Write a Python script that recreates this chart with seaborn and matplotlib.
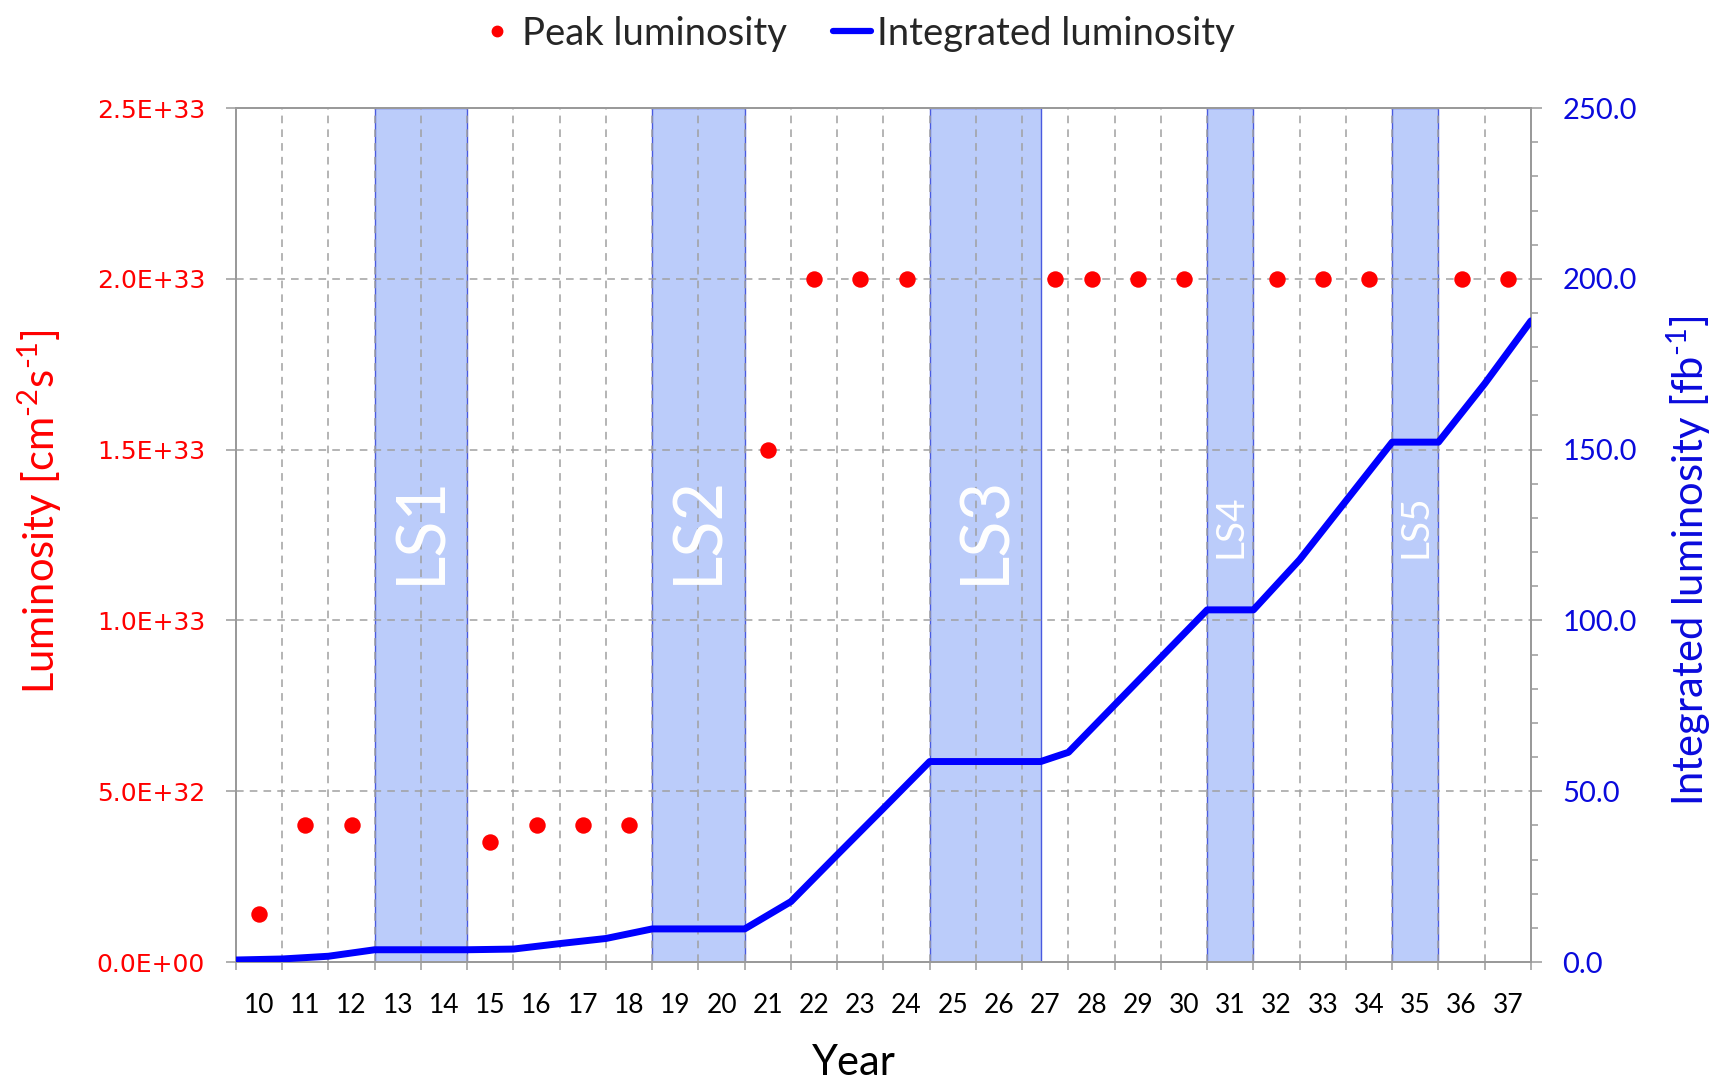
import matplotlib
matplotlib.use("Agg")
import matplotlib.pyplot as plt
import matplotlib.ticker as mticker
from matplotlib.lines import Line2D
import numpy as np
import pandas as pd
import seaborn as sns

# Integrated luminosity [fb^-1] at each time point (start of year, plus end of LS3)
integ_time = [10, 11, 12, 13, 14, 15, 16, 17, 18, 19, 20, 21, 22, 23, 24,
              25, 26, 27, 27.4, 28, 29, 30, 31, 32, 33, 34, 35, 36, 37, 38]
integ_lumi = [0.6, 0.9, 1.7, 3.6, 3.6, 3.6, 3.8, 5.4, 6.9, 9.7, 9.7, 9.7, 17.7, 31.4, 45.0,
              58.7, 58.7, 58.7, 58.7, 61.4, 75.3, 89.2, 103.1, 103.1, 117.8, 135.0, 152.2, 152.2, 169.3, 187.7]

# Peak luminosity [cm^-2 s^-1], plotted in the middle of each running period
peak_time = [10.5, 11.5, 12.5, 15.5, 16.5, 17.5, 18.5, 21.5, 22.5, 23.5, 24.5,
             27.7, 28.5, 29.5, 30.5, 32.5, 33.5, 34.5, 36.5, 37.5]
peak_lumi = [1.4e32, 4.0e32, 4.0e32, 3.5e32, 4.0e32, 4.0e32, 4.0e32, 1.5e33, 2.0e33, 2.0e33, 2.0e33,
             2.0e33, 2.0e33, 2.0e33, 2.0e33, 2.0e33, 2.0e33, 2.0e33, 2.0e33, 2.0e33]

year_labels = list(range(10, 38))

# Long shutdowns
shutdown_names = ["LS1", "LS2", "LS3", "LS4", "LS5"]
shutdown_start = [13, 19, 25, 31, 35]
shutdown_end = [15, 21, 27.4, 32, 36]

RED = "#FF0000"
BLUE = "#0000FF"
BLUE_TXT = "#0A0ADC"
GREY = "#9A9A9A"

sns.set_theme(style="white")
plt.rcParams["font.family"] = ["Lato", "DejaVu Sans"]
plt.rcParams["mathtext.fontset"] = "custom"
plt.rcParams["mathtext.rm"] = "Lato"
plt.rcParams["mathtext.it"] = "Lato:italic"
plt.rcParams["mathtext.bf"] = "Lato:bold"
plt.rcParams["mathtext.default"] = "regular"

fig = plt.figure(figsize=(17.16, 10.84), dpi=100)
ax = fig.add_axes([0.1375, 0.1125, 0.75466, 0.78782])
ax2 = ax.twinx()

# shaded shutdown periods
for name, s, e in zip(shutdown_names, shutdown_start, shutdown_end):
    ax.axvspan(s, e, facecolor="#BBCCFA", edgecolor="#4A5AE0", linewidth=1.0, zorder=0.3)
    big = (e - s) > 1.5
    ax.text((s + e) / 2, 0.507 if big else 0.51, name, transform=ax.get_xaxis_transform(),
            rotation=90, ha="center", va="center", color="white",
            fontsize=48 if big else 28, zorder=3)

peak_df = pd.DataFrame({"time": peak_time, "lumi": peak_lumi})
integ_df = pd.DataFrame({"time": integ_time, "lumi": integ_lumi})

sns.scatterplot(data=peak_df, x="time", y="lumi", ax=ax, color=RED, s=140,
                linewidth=0, zorder=4, legend=False)
sns.lineplot(data=integ_df, x="time", y="lumi", ax=ax2, color=BLUE, linewidth=5,
             legend=False, zorder=4)

# x axis: year boundaries as major ticks, labels centred in each year
ax.set_xlim(10, 38)
ax.xaxis.set_major_locator(mticker.MultipleLocator(1))
ax.xaxis.set_major_formatter(mticker.NullFormatter())
ax.set_xticks([y + 0.5 for y in year_labels], minor=True)
ax.set_xticklabels([str(y) for y in year_labels], minor=True)
ax.tick_params(axis="x", which="major", bottom=True, direction="out", length=6,
               width=1.1, color=GREY)
ax.tick_params(axis="x", which="minor", bottom=True, length=0, pad=22,
               labelsize=19, labelcolor="black")

# left axis: peak luminosity
ax.set_ylim(0, 2.5e33)
ax.set_yticks(np.linspace(0, 2.5e33, 6))
ax.yaxis.set_major_formatter(mticker.FuncFormatter(lambda v, p: f"{v:.1E}"))
ax.tick_params(axis="y", which="major", left=True, direction="out", length=7.2,
               width=1.1, color=GREY, pad=15, labelsize=18, labelcolor=RED,
               labelfontfamily="DejaVu Sans")

# right axis: integrated luminosity
ax2.set_ylim(0, 250)
ax2.set_yticks(np.linspace(0, 250, 6))
ax2.yaxis.set_minor_locator(mticker.MultipleLocator(10))
ax2.yaxis.set_major_formatter(mticker.FuncFormatter(lambda v, p: f"{v:.1f}"))
ax2.tick_params(axis="y", which="major", right=True, direction="out", length=7.7,
                width=1.1, color=GREY, pad=15, labelsize=21, labelcolor=BLUE_TXT)
ax2.tick_params(axis="y", which="minor", right=True, direction="out", length=5,
                width=1.1, color=GREY)

ax.grid(True, which="major", axis="both", color="#A0A0A0",
        linestyle=(0, (5, 4)), linewidth=1.1)
ax2.grid(False)

for a in (ax, ax2):
    for sp in a.spines.values():
        sp.set_visible(True)
        sp.set_color(GREY)
        sp.set_linewidth(1.3)

ax.set_ylabel(r"Luminosity [cm$^{\text{-2}}$s$^{\text{-1}}$]", color=RED, fontsize=30)
ax.yaxis.label.set_verticalalignment("center")
ax.yaxis.set_label_coords(-0.1514, 0.527)

ax2.set_ylabel(r"Integrated luminosity [fb$^{\text{-1}}$]", color=BLUE_TXT, fontsize=30)
ax2.yaxis.label.set_verticalalignment("center")
ax2.yaxis.set_label_coords(1.122, 0.47)

ax.set_xlabel("Year", fontsize=30, color="black")
ax.xaxis.label.set_verticalalignment("center")
ax.xaxis.set_label_coords(0.477, -0.118)

handles = [
    Line2D([], [], marker="o", linestyle="none", color=RED, markersize=7.5),
    Line2D([], [], color=BLUE, linewidth=4.5, solid_capstyle="round"),
]
fig.legend(handles, ["Peak luminosity", "Integrated luminosity"], loc="center",
           bbox_to_anchor=(0.499, 0.969), ncol=2, frameon=False, fontsize=27.5,
           handlelength=1.0, handletextpad=0.15, columnspacing=1.2)

fig.savefig("out.png", dpi=100)
